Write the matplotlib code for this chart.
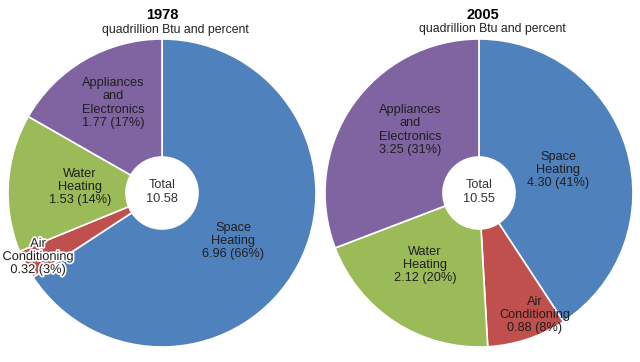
import matplotlib
matplotlib.use("Agg")
import matplotlib.pyplot as plt
from matplotlib.patheffects import withStroke

plt.rcParams['font.family'] = ['Liberation Sans', 'DejaVu Sans']

# data
categories = ["Space\nHeating", "Air\nConditioning", "Water\nHeating", "Appliances\nand\nElectronics"]
colors = ['#4F81BD', '#C0504D', '#9BBB59', '#8064A2']
values_1978 = [6.96, 0.32, 1.53, 1.77]
pct_1978 = [66, 3, 14, 17]
total_1978 = 10.58
values_2005 = [4.30, 0.88, 2.12, 3.25]
pct_2005 = [41, 8, 20, 31]
total_2005 = 10.55

W, H = 640, 362
fig = plt.figure(figsize=(W / 100, H / 100), dpi=100)
fig.patch.set_facecolor('white')

R = 154
HOLE = 36


def donut(cx, cy, values, pcts, total, year, title_xy, sub_xy, label_px, halo=()):
    ax = fig.add_axes([(cx - R) / W, (H - cy - R) / H, 2 * R / W, 2 * R / H])
    ax.pie(values, colors=colors, startangle=90, counterclock=False, radius=1,
           wedgeprops=dict(width=1 - HOLE / R, edgecolor='white', linewidth=1.2))
    ax.set_xlim(-1, 1)
    ax.set_ylim(-1, 1)
    ax.axis('off')

    def to_data(px, py):
        return (px - cx) / R, (cy - py) / R

    for i, (cat, v, p) in enumerate(zip(categories, values, pcts)):
        x, y = to_data(*label_px[i])
        t = ax.text(x, y, f"{cat}\n{v:.2f} ({p}%)", ha='center', va='center',
                    fontsize=9.2, color='#1f1f1f', linespacing=1.12)
        if i in halo:
            t.set_path_effects([withStroke(linewidth=2.5, foreground='white')])
    x, y = to_data(cx, cy - 1)
    ax.text(x, y, f"Total\n{total:.2f}", ha='center', va='center',
            fontsize=9.2, color='#333333', linespacing=1.12)

    fig.text(title_xy[0] / W, 1 - title_xy[1] / H, year, ha='center', va='center',
             fontsize=10.5, fontweight='bold', color='black')
    fig.text(sub_xy[0] / W, 1 - sub_xy[1] / H, "quadrillion Btu and percent",
             ha='center', va='center', fontsize=8.8, color='#222222')


donut(162, 193, values_1978, pct_1978, total_1978, "1978",
      (162, 15), (175, 30),
      [(233, 241), (38, 257), (80, 187), (113, 103)], halo=(1,))
donut(479, 193, values_2005, pct_2005, total_2005, "2005",
      (483, 15), (492, 29),
      [(558, 170), (535, 315), (425, 265), (410, 130)])

fig.savefig('out.png', dpi=100, facecolor='white')
